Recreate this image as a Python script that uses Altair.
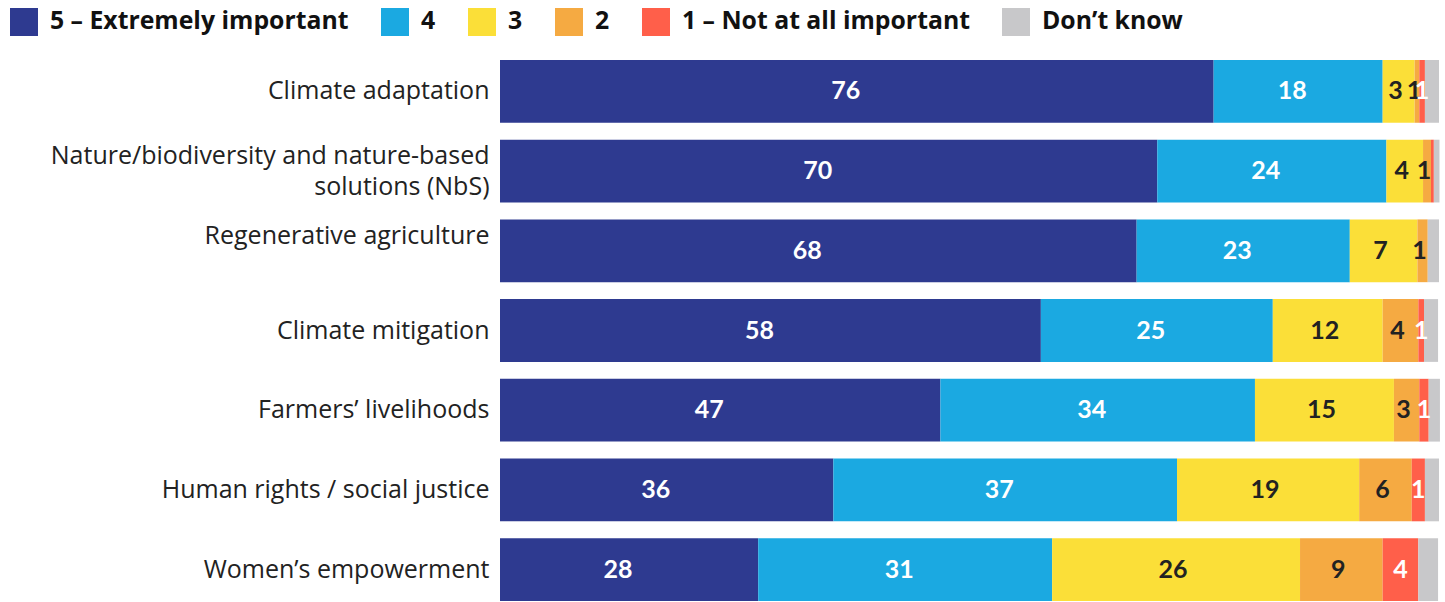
import altair as alt
import pandas as pd

categories = [
    "Climate adaptation",
    "Nature/biodiversity and nature-based|solutions (NbS)",
    "Regenerative agriculture",
    "Climate mitigation",
    "Farmers’ livelihoods",
    "Human rights / social justice",
    "Women’s empowerment",
]
# labels drawn as the first line of a two-line block
two_line = [categories[1], categories[2]]

levels = ["5 – Extremely important", "4", "3", "2", "1 – Not at all important", "Don’t know"]
colors = ["#2E3A90", "#1BA9E1", "#FBDF38", "#F5AA42", "#FF5F4A", "#C8C8CA"]

# segment widths (percent) per level, in category order
v5 = [76.0, 70.0, 67.8, 57.6, 46.9, 35.5, 27.5]
v4 = [18.0, 24.4, 22.7, 24.7, 33.5, 36.6, 31.3]
v3 = [3.4, 3.9, 7.2, 11.7, 14.8, 19.4, 26.4]
v2 = [0.5, 0.85, 1.1, 3.8, 2.7, 5.6, 8.8]
v1 = [0.6, 0.3, 0.0, 0.6, 1.0, 1.4, 3.8]
vdk = [1.5, 0.6, 1.2, 1.5, 1.2, 1.5, 2.1]

# printed labels
l5 = ["76", "70", "68", "58", "47", "36", "28"]
l4 = ["18", "24", "23", "25", "34", "37", "31"]
l3 = ["3", "4", "7", "12", "15", "19", "26"]
l2 = ["1", "1", "1", "4", "3", "6", "9"]
l1 = ["1", "", "", "1", "1", "1", "4"]
ldk = ["", "", "", "", "", "", ""]

values = [v5, v4, v3, v2, v1, vdk]
labels = [l5, l4, l3, l2, l1, ldk]

rows = []
for li, lev in enumerate(levels):
    for ci, cat in enumerate(categories):
        rows.append({"category": cat, "level": lev, "order": li,
                     "value": values[li][ci], "label": labels[li][ci]})
df = pd.DataFrame(rows)

AXFONT = "Open Sans"
NUMFONT = "Lato"

base = alt.Chart(df).transform_stack(
    stack="value", groupby=["category"], as_=["x0", "x1"],
    sort=[alt.SortField("order", order="ascending")]
).transform_calculate(mid="(datum.x0 + datum.x1) / 2")

test_two = " || ".join(f"datum.value === {repr(c)}" for c in two_line)

y = alt.Y("category:N", sort=categories,
          scale=alt.Scale(paddingInner=0.2125, paddingOuter=0),
          axis=alt.Axis(title=None, domain=False, ticks=False, labelFontSize=25,
                        labelPadding=11, labelLimit=0, labelColor="#222",
                        labelFont=AXFONT, labelLineHeight=31,
                        labelOffset={"condition": {"test": test_two, "value": -15}, "value": 0},
                        labelExpr="split(datum.label, '|')"))

xs = alt.Scale(domain=[0, 100], nice=False, zero=True)

bars = base.mark_bar(stroke=None).encode(
    y=y,
    x=alt.X("x0:Q", scale=xs, axis=None),
    x2="x1:Q",
    color=alt.Color("level:N", sort=levels,
                    scale=alt.Scale(domain=levels, range=colors),
                    legend=alt.Legend(title=None, orient="none", legendX=-490, legendY=-52,
                                      direction="horizontal", symbolType="square",
                                      symbolSize=784, symbolStrokeWidth=0,
                                      labelFontSize=24.8, labelFontWeight="bold",
                                      labelFont=AXFONT, labelColor="#111",
                                      labelOffset=12, columnPadding=32, padding=0,
                                      labelLimit=0, columns=6)),
)


def text_layer(lvls, color, dx):
    return base.transform_filter(
        alt.FieldOneOfPredicate(field="level", oneOf=lvls)
    ).mark_text(fontSize=25, fontWeight="bold", font=NUMFONT, baseline="middle",
                align="center", color=color, dx=dx).encode(
        y=alt.Y("category:N", sort=categories),
        x=alt.X("mid:Q", scale=xs),
        text="label:N",
    )


texts = [
    text_layer([levels[0]], "white", -11),
    text_layer([levels[1]], "white", -6),
    text_layer([levels[2]], "#222222", -3),
    text_layer([levels[3]], "#222222", -3),
    text_layer([levels[4]], "white", 0),
]

chart = alt.layer(bars, *texts).properties(
    width=939, height=541,
    padding={"left": 10, "top": 8, "right": 0, "bottom": 0},
    background="white",
).configure_view(stroke=None)

chart.save("out.html", embed_options={"renderer": "svg", "actions": False})
